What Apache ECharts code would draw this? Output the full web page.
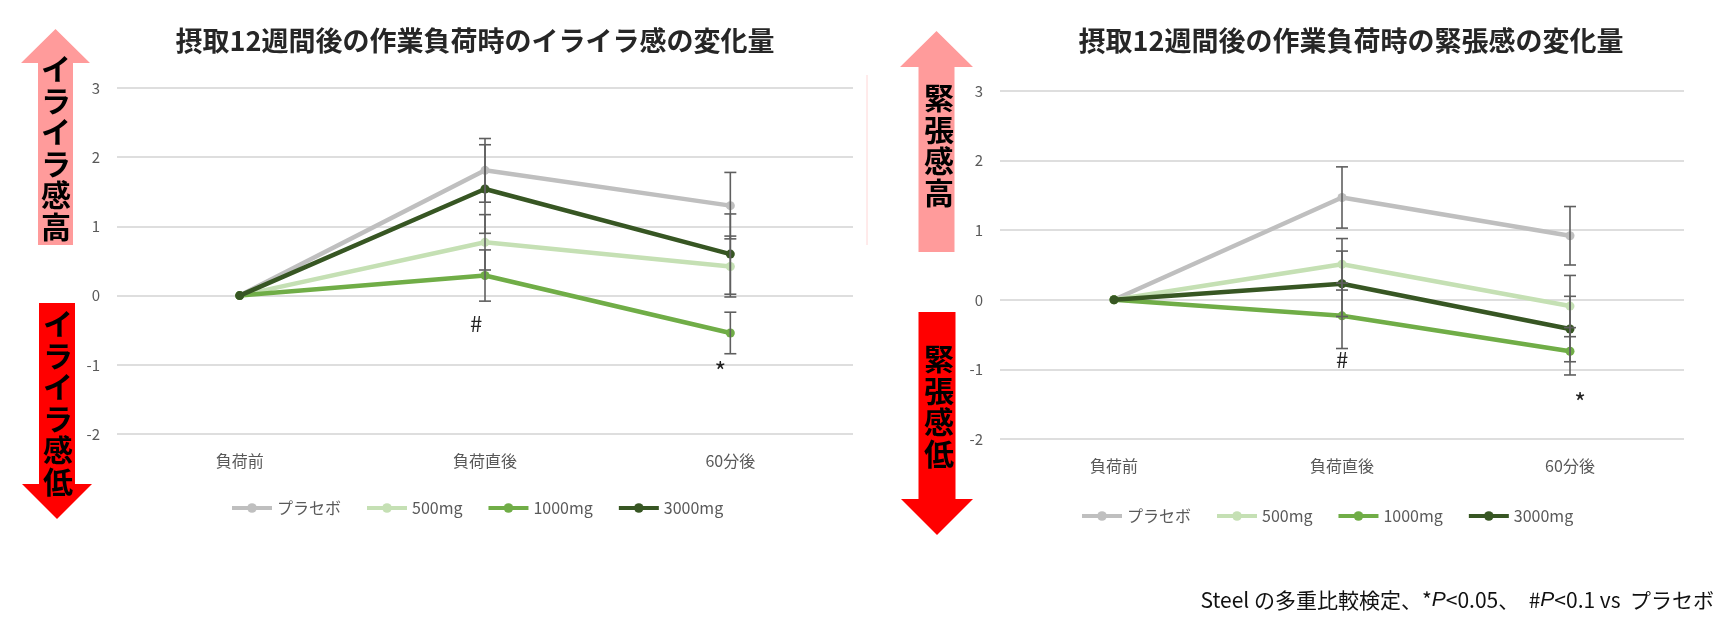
<!DOCTYPE html>
<html><head><meta charset="utf-8">
<script src="https://cdn.jsdelivr.net/npm/echarts@6/dist/echarts.min.js"></script>
<style>html,body{margin:0;padding:0;background:#fff}#c{width:1731px;height:621px}</style>
</head><body><div id="c"></div>
<script>
// ---- data ----
const categories = ['負荷前', '負荷直後', '60分後'];
const seriesNames = ['プラセボ', '500mg', '1000mg', '3000mg'];

// irritation (イライラ感) change
const irrPlacebo = [0, 1.81, 1.30];
const irr500 = [0, 0.77, 0.42];
const irr1000 = [0, 0.29, -0.54];
const irr3000 = [0, 1.54, 0.60];
const irrPlaceboErr = [0, 0.46, 0.48];
const irr500Err = [0, 0.40, 0.44];
const irr1000Err = [0, 0.37, 0.30];
const irr3000Err = [0, 0.64, 0.58];
const irrMarkText = ['#', '*'];
const irrMarkCat = [1, 2];
const irrMarkValue = [-0.41, -0.99];

// tension (緊張感) change
const tenPlacebo = [0, 1.47, 0.92];
const ten500 = [0, 0.51, -0.09];
const ten1000 = [0, -0.23, -0.74];
const ten3000 = [0, 0.23, -0.42];
const tenPlaceboErr = [0, 0.44, 0.42];
const ten500Err = [0, 0.37, 0.44];
const ten1000Err = [0, 0.47, 0.34];
const ten3000Err = [0, 0.47, 0.47];
const tenMarkText = ['#', '*'];
const tenMarkCat = [1, 2];
const tenMarkValue = [-0.86, -1.37];

const yMin = -2, yMax = 3, yStep = 1;

// ---- styles ----
const colors = ['#BFBFBF', '#C5E0B4', '#70AD47', '#375623'];
const FONT = '"Noto Sans CJK JP", "Noto Sans", sans-serif';
const axisGray = '#595959';

const irrVals = [irrPlacebo, irr500, irr1000, irr3000];
const irrErrs = [irrPlaceboErr, irr500Err, irr1000Err, irr3000Err];
const tenVals = [tenPlacebo, ten500, ten1000, ten3000];
const tenErrs = [tenPlaceboErr, ten500Err, ten1000Err, ten3000Err];

function errorBarRender(params, api) {
  const x = api.value(0), lo = api.value(1), hi = api.value(2);
  const t = api.coord([x, hi]), b = api.coord([x, lo]);
  const hw = 6;
  const st = {stroke: '#5f5f5f', lineWidth: 1.6};
  return {type: 'group', children: [
    {type: 'line', shape: {x1: t[0], y1: t[1], x2: b[0], y2: b[1]}, style: st},
    {type: 'line', shape: {x1: t[0] - hw, y1: t[1], x2: t[0] + hw, y2: t[1]}, style: st},
    {type: 'line', shape: {x1: b[0] - hw, y1: b[1], x2: b[0] + hw, y2: b[1]}, style: st}
  ]};
}

function buildSeries(vals, errs, axisIdx, markText, markCat, markValue, markOffsets) {
  const out = [];
  vals.forEach((v, k) => {
    out.push({
      type: 'line', name: seriesNames[k], xAxisIndex: axisIdx, yAxisIndex: axisIdx,
      data: v, symbol: 'circle', symbolSize: 9, showSymbol: true,
      lineStyle: {color: colors[k], width: 4.5}, itemStyle: {color: colors[k]},
      z: 2 + k * 0.1, animation: false
    });
  });
  const eb = [];
  vals.forEach((v, k) => {
    v.forEach((y, i) => { if (errs[k][i] > 0) eb.push([i, y - errs[k][i], y + errs[k][i]]); });
  });
  out.push({type: 'custom', xAxisIndex: axisIdx, yAxisIndex: axisIdx, renderItem: errorBarRender,
    data: eb, z: 5, animation: false, silent: true});
  out.push({
    type: 'scatter', xAxisIndex: axisIdx, yAxisIndex: axisIdx, symbolSize: 1,
    itemStyle: {color: 'rgba(0,0,0,0)'}, silent: true, animation: false, z: 6,
    data: markText.map((t, j) => ({
      value: [markCat[j], markValue[j]],
      label: {show: true, position: 'inside', formatter: t,
        offset: [markOffsets[j], t === '*' ? 7 : 0],
        fontSize: t === '#' ? 22 : 25, color: '#222', fontFamily: FONT, opacity: 1}
    }))
  });
  return out;
}

function xAx(idx) {
  return {type: 'category', gridIndex: idx, data: categories, boundaryGap: true,
    axisLine: {show: false}, axisTick: {show: false},
    axisLabel: {color: axisGray, fontSize: 16, fontFamily: FONT, margin: 19}};
}
function yAx(idx) {
  return {type: 'value', gridIndex: idx, min: yMin, max: yMax, interval: yStep,
    axisLine: {show: false}, axisTick: {show: false},
    axisLabel: {color: axisGray, fontSize: 15, fontFamily: FONT, margin: 17},
    splitLine: {lineStyle: {color: '#DEDEDE', width: 2}}};
}

function upArrow(tipX, tipY, baseY, bottomY, headHalf, shaftHalf, color) {
  return {type: 'polygon', shape: {points: [
    [tipX, tipY], [tipX + headHalf, baseY], [tipX + shaftHalf, baseY], [tipX + shaftHalf, bottomY],
    [tipX - shaftHalf, bottomY], [tipX - shaftHalf, baseY], [tipX - headHalf, baseY]]},
    style: {fill: color}, z: 1};
}
function downArrow(cx, topY, baseY, tipY, headHalf, shaftHalf, color) {
  return {type: 'polygon', shape: {points: [
    [cx - shaftHalf, topY], [cx + shaftHalf, topY], [cx + shaftHalf, baseY], [cx + headHalf, baseY],
    [cx, tipY], [cx - headHalf, baseY], [cx - shaftHalf, baseY]]},
    style: {fill: color}, z: 1};
}
function vText(str, x, y) {
  return {type: 'text', x: x, y: y, z: 2, style: {text: str.split('').join('\n'),
    font: 'bold 30px ' + FONT, lineHeight: 31.5, fill: '#000', align: 'center', verticalAlign: 'top'}};
}

const chart = echarts.init(document.getElementById('c'), null, {renderer: 'canvas'});
const legendCommon = {
  data: seriesNames, itemWidth: 40, itemHeight: 12, itemGap: 24,
  lineStyle: {width: 4},
  textStyle: {color: axisGray, fontSize: 16, fontFamily: FONT}
};
chart.setOption({
  animation: false,
  title: [
    {text: '摂取12週間後の作業負荷時のイライラ感の変化量', left: 470, top: 22, textAlign: 'center',
      textStyle: {fontSize: 27, fontWeight: 'bold', color: '#262626', fontFamily: FONT}},
    {text: '摂取12週間後の作業負荷時の緊張感の変化量', left: 1346, top: 22, textAlign: 'center',
      textStyle: {fontSize: 27, fontWeight: 'bold', color: '#262626', fontFamily: FONT}},
    {text: '{a|Steel の多重比較検定、*}{i|P}{a|<0.05、  #}{i|P}{a|<0.1 vs  プラセボ}', right: 12, top: 585,
      textStyle: {fontWeight: 'normal', rich: {
        a: {fontSize: 21, color: '#111', fontWeight: 'normal', fontFamily: FONT},
        i: {fontSize: 21, color: '#111', fontWeight: 'normal', fontStyle: 'italic', fontFamily: '"Liberation Sans", sans-serif'}}}}
  ],
  legend: [
    Object.assign({left: 225, top: 495}, legendCommon),
    Object.assign({left: 1075, top: 503}, legendCommon)
  ],
  grid: [
    {left: 117, top: 88, width: 736, height: 346},
    {left: 1000, top: 91, width: 684, height: 348}
  ],
  xAxis: [xAx(0), xAx(1)],
  yAxis: [yAx(0), yAx(1)],
  series: [].concat(
    buildSeries(irrVals, irrErrs, 0, irrMarkText, irrMarkCat, irrMarkValue, [-9, -10]),
    buildSeries(tenVals, tenErrs, 1, tenMarkText, tenMarkCat, tenMarkValue, [0, 10])
  ),
  graphic: [
    upArrow(55.5, 29, 63, 245, 34.5, 17.5, '#FF9B9B'),
    downArrow(57, 303, 484, 519, 35, 18, '#FF0000'),
    upArrow(936.5, 31, 67, 252, 36.5, 18, '#FF9B9B'),
    downArrow(937, 312, 499, 535, 36, 18.5, '#FF0000'),
    vText('イライラ感高', 56, 53),
    vText('イライラ感低', 58, 308),
    vText('緊張感高', 939, 82),
    vText('緊張感低', 939, 343),
    {type: 'line', shape: {x1: 867, y1: 75, x2: 867, y2: 245}, style: {stroke: '#FFD6D6', lineWidth: 1}}
  ]
});
</script></body></html>
